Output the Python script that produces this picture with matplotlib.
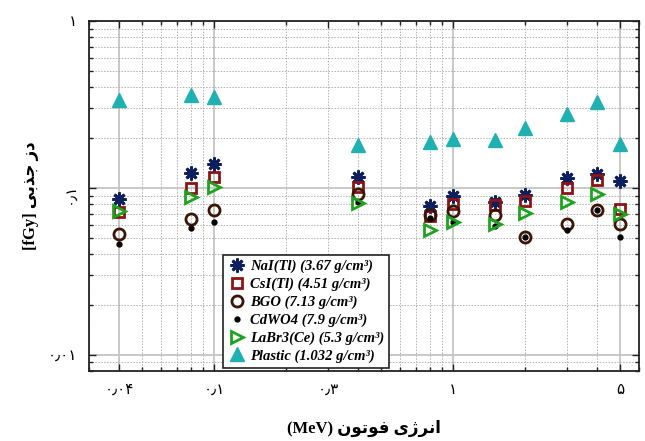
import matplotlib.pyplot as plt
from matplotlib.ticker import FixedLocator, LogLocator, NullFormatter
import numpy as np

# photon energies (MeV)
energy = [0.04, 0.08, 0.1, 0.4, 0.8, 1.0, 1.5, 2.0, 3.0, 4.0, 5.0]

# absorbed dose per detector
nai = [0.0855, 0.1226, 0.140, 0.117, 0.078, 0.0895, 0.0823, 0.0907, 0.114, 0.121, 0.110]
csi = [0.0717, 0.1004, 0.1165, 0.101, 0.0678, 0.0804, 0.0787, 0.0835, 0.1004, 0.1117, 0.0744]
bgo = [0.0526, 0.0653, 0.0734, 0.0916, 0.069, 0.0727, 0.0688, 0.0509, 0.061, 0.0734, 0.0605]
cdwo4 = [0.0462, 0.0572, 0.0624, 0.082, 0.066, 0.0624, 0.059, 0.051, 0.0556, 0.074, 0.0509]
labr3 = [0.0727, 0.0883, 0.1014, 0.0815, 0.0556, 0.0624, 0.061, 0.0704, 0.0827, 0.0916, 0.0694]
plastic = [0.337, 0.362, 0.350, 0.181, 0.189, 0.197, 0.195, 0.228, 0.278, 0.326, 0.183]

labels = ["NaI(Tl) (3.67 g/cm³)", "CsI(Tl) (4.51 g/cm³)", "BGO (7.13 g/cm³)",
          "CdWO4 (7.9 g/cm³)", "LaBr3(Ce) (5.3 g/cm³)", "Plastic (1.032 g/cm³)"]

xticks = [0.04, 0.1, 0.3, 1, 5]
xticklabels = ["۰٫۰۴", "۰٫۱", "۰٫۳", "۱", "۵"]
yticks = [0.01, 0.1, 1]
yticklabels = ["۰٫۰۱", "۰٫۱", "۱"]

# Persian text in visual order with presentation forms (no shaping in matplotlib)
xlabel = "(MeV) \uFEE5\uFEEE\uFE97\uFEEE\uFED3 \uFBFC\uFB8A\uFEAE\uFEE7\uFE8D"
ylabel = "[fGy] \uFBFD\uFE91\uFEAC\uFE9F \uFEAF\uFEA9"

fa_font = ["Liberation Serif", "DejaVu Sans"]

fig = plt.figure(figsize=(6.45, 4.41), dpi=100)
ax = fig.add_axes([0.1385, 0.1587, 0.8527, 0.7937])

ax.plot(energy, nai, ls="none", marker=(8, 2, 0), ms=10, mew=2.0, color="#0d1f5e", label=labels[0])
ax.plot(energy, csi, ls="none", marker="s", ms=7, mew=2, mfc="none", mec="#8b1515", label=labels[1])
ax.plot(energy, bgo, ls="none", marker="o", ms=8, mew=2, mfc="none", mec="#3b1608", label=labels[2])
ax.plot(energy, cdwo4, ls="none", marker="o", ms=3.5, color="black", label=labels[3])
ax.plot(energy, labr3, ls="none", marker=">", ms=8, mew=2, mfc="none", mec="#1ea31e", label=labels[4])
ax.plot(energy, plastic, ls="none", marker="^", ms=10, color="#1fb1b1", label=labels[5])

ax.set_xscale("log")
ax.set_yscale("log")
ax.set_xlim(0.03, 6)
ax.set_ylim(0.008, 1)

ax.xaxis.set_major_locator(FixedLocator(xticks))
ax.set_xticklabels(xticklabels, family=fa_font, fontsize=11)
ax.xaxis.set_minor_locator(LogLocator(base=10, subs=np.arange(2, 10)))
ax.xaxis.set_minor_formatter(NullFormatter())
ax.yaxis.set_major_locator(FixedLocator(yticks))
ax.set_yticklabels(yticklabels, family=fa_font, fontsize=11)
ax.yaxis.set_minor_locator(LogLocator(base=10, subs=np.arange(2, 10)))
ax.yaxis.set_minor_formatter(NullFormatter())
ax.get_yticklabels()[1].set_rotation(90)

ax.tick_params(which="both", direction="in", top=True, right=True, color="#222222")
ax.tick_params(which="major", length=5, width=1, pad=9)
ax.tick_params(which="minor", length=3, width=1)

ax.grid(which="major", color="#c4c4c4", linestyle="-", linewidth=1.3)
ax.grid(which="minor", color="#b0b0b0", linestyle=(0, (1.5, 1.5)), linewidth=0.7)
ax.set_axisbelow(True)
ax.get_xgridlines()[2].set_linestyle((0, (1.5, 1.5)))
ax.get_xgridlines()[2].set_color("#b0b0b0")
ax.get_xgridlines()[2].set_linewidth(0.7)

for s in ax.spines.values():
    s.set_linewidth(1.3)
    s.set_color("#222222")

ax.set_xlabel(xlabel, family=fa_font, fontsize=12, fontweight="bold", labelpad=17)
ax.set_ylabel(ylabel, family=fa_font, fontsize=12, fontweight="bold", labelpad=6)

leg = ax.legend(loc="lower left", bbox_to_anchor=(0.2425, 0.009), borderaxespad=0,
                fancybox=False, framealpha=1, edgecolor="#222222", handletextpad=0.3,
                handlelength=1.2, labelspacing=0.3, borderpad=0.35,
                prop={"family": "Liberation Serif", "style": "italic", "weight": "bold", "size": 10.5})
leg.get_frame().set_linewidth(1.2)

fig.savefig("out.png", dpi=100)
